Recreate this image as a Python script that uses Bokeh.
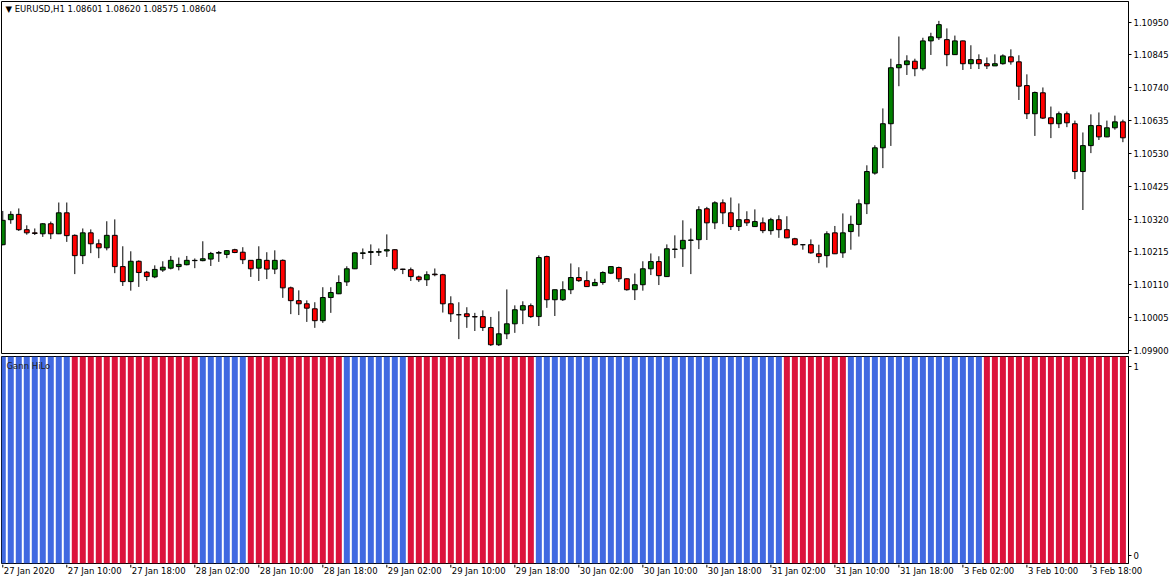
from bokeh.plotting import figure
from bokeh.models import (ColumnDataSource, Range1d, FixedTicker, LinearAxis, Label,
                          PrintfTickFormatter)
from bokeh.layouts import column
from bokeh.embed import file_html
from bokeh.resources import INLINE
from bokeh.core.properties import value

# ---------------- data (EURUSD H1, 27 Jan 2020 02:00 .. 3 Feb 2020 22:00) ----------------
opens = [1.10238, 1.10318, 1.10335, 1.10286, 1.10276, 1.10273, 1.10305, 1.10273, 1.10340, 1.10268,
         1.10203, 1.10276, 1.10241, 1.10228, 1.10268, 1.10168, 1.10120, 1.10185, 1.10150, 1.10135,
         1.10157, 1.10163, 1.10168, 1.10174, 1.10187, 1.10187, 1.10192, 1.10211, 1.10207, 1.10222,
         1.10214, 1.10188, 1.10163, 1.10188, 1.10160, 1.10188, 1.10100, 1.10059, 1.10049, 1.10033,
         1.09995, 1.10069, 1.10081, 1.10119, 1.10161, 1.10210, 1.10213, 1.10214, 1.10218, 1.10222,
         1.10160, 1.10158, 1.10135, 1.10126, 1.10144, 1.10142, 1.10049, 1.10014, 1.10017, 1.10008,
         1.10008, 1.09973, 1.09918, 1.09953, 1.09985, 1.10029, 1.10043, 1.10008, 1.10200, 1.10062,
         1.10062, 1.10094, 1.10133, 1.10123, 1.10107, 1.10117, 1.10147, 1.10165, 1.10129, 1.10094,
         1.10110, 1.10161, 1.10184, 1.10136, 1.10223, 1.10225, 1.10252, 1.10254, 1.10353, 1.10308,
         1.10372, 1.10340, 1.10296, 1.10318, 1.10296, 1.10308, 1.10283, 1.10318, 1.10286, 1.10257,
         1.10238, 1.10238, 1.10209, 1.10203, 1.10276, 1.10212, 1.10280, 1.10303, 1.10369, 1.10467,
         1.10548, 1.10625, 1.10804, 1.10814, 1.10825, 1.10801, 1.10890, 1.10900, 1.10894, 1.10846,
         1.10890, 1.10817, 1.10830, 1.10817, 1.10810, 1.10817, 1.10839, 1.10823, 1.10747, 1.10657,
         1.10724, 1.10644, 1.10625, 1.10657, 1.10625, 1.10472, 1.10555, 1.10619, 1.10583, 1.10612,
         1.10631]
highs = [1.10346, 1.10345, 1.10354, 1.10300, 1.10290, 1.10307, 1.10312, 1.10373, 1.10373, 1.10271,
         1.10290, 1.10287, 1.10255, 1.10313, 1.10319, 1.10233, 1.10217, 1.10188, 1.10154, 1.10172,
         1.10185, 1.10202, 1.10197, 1.10202, 1.10194, 1.10249, 1.10215, 1.10218, 1.10221, 1.10225,
         1.10230, 1.10188, 1.10233, 1.10214, 1.10220, 1.10191, 1.10104, 1.10092, 1.10060, 1.10054,
         1.10102, 1.10102, 1.10140, 1.10169, 1.10214, 1.10226, 1.10239, 1.10226, 1.10271, 1.10223,
         1.10161, 1.10165, 1.10139, 1.10153, 1.10162, 1.10145, 1.10073, 1.10054, 1.10038, 1.10020,
         1.10028, 1.10007, 1.10025, 1.10095, 1.10044, 1.10057, 1.10050, 1.10204, 1.10203, 1.10094,
         1.10121, 1.10178, 1.10166, 1.10153, 1.10129, 1.10153, 1.10169, 1.10168, 1.10131, 1.10146,
         1.10185, 1.10210, 1.10201, 1.10239, 1.10268, 1.10316, 1.10290, 1.10361, 1.10359, 1.10377,
         1.10383, 1.10389, 1.10370, 1.10345, 1.10351, 1.10325, 1.10324, 1.10332, 1.10329, 1.10260,
         1.10239, 1.10255, 1.10238, 1.10281, 1.10298, 1.10338, 1.10331, 1.10383, 1.10492, 1.10556,
         1.10674, 1.10833, 1.10904, 1.10844, 1.10833, 1.10900, 1.10916, 1.10954, 1.10930, 1.10907,
         1.10891, 1.10876, 1.10847, 1.10837, 1.10847, 1.10847, 1.10863, 1.10844, 1.10783, 1.10728,
         1.10741, 1.10680, 1.10664, 1.10664, 1.10635, 1.10597, 1.10655, 1.10661, 1.10635, 1.10651,
         1.10638]
lows = [1.10236, 1.10305, 1.10282, 1.10270, 1.10269, 1.10263, 1.10256, 1.10272, 1.10247, 1.10144,
        1.10176, 1.10211, 1.10195, 1.10220, 1.10147, 1.10106, 1.10091, 1.10103, 1.10122, 1.10131,
        1.10151, 1.10159, 1.10156, 1.10172, 1.10163, 1.10185, 1.10170, 1.10183, 1.10195, 1.10211,
        1.10176, 1.10135, 1.10122, 1.10128, 1.10144, 1.10068, 1.10016, 1.10013, 1.09991, 1.09972,
        1.09988, 1.10020, 1.10080, 1.10106, 1.10160, 1.10192, 1.10173, 1.10202, 1.10199, 1.10154,
        1.10144, 1.10122, 1.10119, 1.10106, 1.10137, 1.10021, 1.09991, 1.09936, 1.09972, 1.09962,
        1.09962, 1.09914, 1.09914, 1.09936, 1.09956, 1.09984, 1.10004, 1.09978, 1.10036, 1.10010,
        1.10058, 1.10080, 1.10119, 1.10103, 1.10106, 1.10110, 1.10144, 1.10119, 1.10091, 1.10061,
        1.10091, 1.10141, 1.10109, 1.10135, 1.10195, 1.10167, 1.10144, 1.10224, 1.10253, 1.10288,
        1.10304, 1.10285, 1.10282, 1.10298, 1.10295, 1.10275, 1.10270, 1.10260, 1.10259, 1.10235,
        1.10222, 1.10209, 1.10179, 1.10165, 1.10208, 1.10196, 1.10222, 1.10264, 1.10336, 1.10462,
        1.10483, 1.10554, 1.10745, 1.10781, 1.10777, 1.10795, 1.10845, 1.10893, 1.10809, 1.10845,
        1.10797, 1.10800, 1.10800, 1.10800, 1.10810, 1.10814, 1.10814, 1.10701, 1.10640, 1.10586,
        1.10640, 1.10579, 1.10611, 1.10614, 1.10448, 1.10349, 1.10531, 1.10573, 1.10582, 1.10606,
        1.10566]
closes = [1.10316, 1.10335, 1.10286, 1.10276, 1.10274, 1.10305, 1.10273, 1.10340, 1.10267, 1.10203,
          1.10276, 1.10241, 1.10228, 1.10268, 1.10168, 1.10120, 1.10185, 1.10149, 1.10136, 1.10159,
          1.10166, 1.10188, 1.10175, 1.10188, 1.10188, 1.10193, 1.10210, 1.10213, 1.10219, 1.10213,
          1.10190, 1.10161, 1.10191, 1.10160, 1.10188, 1.10100, 1.10059, 1.10049, 1.10035, 1.09995,
          1.10069, 1.10085, 1.10117, 1.10161, 1.10212, 1.10212, 1.10216, 1.10216, 1.10222, 1.10161,
          1.10159, 1.10136, 1.10126, 1.10142, 1.10142, 1.10049, 1.10017, 1.10014, 1.10008, 1.10007,
          1.09973, 1.09918, 1.09953, 1.09985, 1.10030, 1.10043, 1.10008, 1.10197, 1.10062, 1.10094,
          1.10094, 1.10133, 1.10123, 1.10104, 1.10117, 1.10149, 1.10168, 1.10129, 1.10094, 1.10110,
          1.10161, 1.10184, 1.10139, 1.10225, 1.10224, 1.10252, 1.10253, 1.10350, 1.10308, 1.10372,
          1.10340, 1.10296, 1.10318, 1.10308, 1.10312, 1.10283, 1.10318, 1.10286, 1.10260, 1.10238,
          1.10238, 1.10212, 1.10200, 1.10273, 1.10209, 1.10276, 1.10303, 1.10369, 1.10472, 1.10548,
          1.10625, 1.10804, 1.10814, 1.10826, 1.10801, 1.10890, 1.10903, 1.10942, 1.10846, 1.10890,
          1.10817, 1.10830, 1.10817, 1.10810, 1.10817, 1.10842, 1.10823, 1.10745, 1.10657, 1.10725,
          1.10643, 1.10625, 1.10657, 1.10628, 1.10472, 1.10555, 1.10619, 1.10583, 1.10612, 1.10631,
          1.10580]

# Gann HiLo state per bar: U = up (blue), D = down (red)
gann_trend = ("UUUUUUUUU" "DDDDDDDDDDDDDDDD" "UUUUUU" "DDDDDDDDDDDD" "UUUUUUUU"
              "DDDDDDDDDDDDDDDD" "UUUUUUUUUUUUUUUUUUUUUUUUUUUUUUU" "DDDDDDDD"
              "UUUUUUUUUUUUUUUUU" "DDDDDDDDDDDDDDDDDD")

price_ticks = [1.09900, 1.10005, 1.10110, 1.10215, 1.10320, 1.10425, 1.10530,
               1.10635, 1.10740, 1.10845, 1.10950]
date_tick_bars = [0, 8, 16, 24, 32, 40, 48, 56, 64, 72, 80, 88, 96, 104, 112, 120, 128, 136]
date_tick_labels = ["27 Jan 2020", "27 Jan 10:00", "27 Jan 18:00", "28 Jan 02:00", "28 Jan 10:00",
                    "28 Jan 18:00", "29 Jan 02:00", "29 Jan 10:00", "29 Jan 18:00", "30 Jan 02:00",
                    "30 Jan 10:00", "30 Jan 18:00", "31 Jan 02:00", "31 Jan 10:00", "31 Jan 18:00",
                    "3 Feb 02:00", "3 Feb 10:00", "3 Feb 18:00"]
title_text = "\u25BC EURUSD,H1  1.08601 1.08620 1.08575 1.08604"
indicator_name = "Gann HiLo"

# ---------------- styling ----------------
FONT = "DejaVu Sans"
FS = "8.5px"
GREEN = "#008000"
RED = "#FF0000"
BLUE_H = "#4169E1"
RED_H = "#DC143C"
FW = 1127          # plot frame width (px)
RB = 47            # right price-scale width (px)

n = len(opens)
xs = list(range(n))
body_top = [max(o, c) for o, c in zip(opens, closes)]
body_bot = [min(o, c) for o, c in zip(opens, closes)]
body_col = [GREEN if c > o else RED for o, c in zip(opens, closes)]
src = ColumnDataSource(dict(x=xs, h=highs, l=lows, top=body_top, bottom=body_bot, color=body_col))

xr = Range1d(-0.16, n - 0.3)


def base_fig(fh, y_range, x_range, fw=FW, mbl=1, mbr=RB, mbt=1, mbb=1, outline="black"):
    p = figure(frame_width=fw, frame_height=fh, x_range=x_range, y_range=y_range,
               output_backend="svg", toolbar_location=None,
               x_axis_location=None, y_axis_location=None,
               min_border_left=mbl, min_border_right=mbr, min_border_top=mbt, min_border_bottom=mbb,
               outline_line_color=outline, outline_line_width=1,
               background_fill_color="white", border_fill_color="white")
    p.grid.visible = False
    return p


# ---------------- price panel ----------------
p1 = base_fig(352, Range1d(1.09890, 1.11016), xr, mbt=1, mbb=2)

p1.segment(x0="x", y0="h", x1="x", y1="l", source=src, line_color="black", line_width=1)
p1.vbar(x="x", top="top", bottom="bottom", width=0.6, source=src,
        fill_color="color", line_color="black", line_width=1)

ax1 = LinearAxis(ticker=FixedTicker(ticks=price_ticks), formatter=PrintfTickFormatter(format="%.5f"),
                 major_tick_out=3, major_tick_in=0, minor_tick_line_color=None,
                 axis_line_color="black", major_tick_line_color="black",
                 major_label_text_font=FONT, major_label_text_font_size=FS,
                 major_label_text_color="black", major_label_standoff=2)
p1.add_layout(ax1, "right")

p1.add_layout(Label(x=4, y=350, x_units="screen", y_units="screen", text=title_text,
                    text_font=FONT, text_font_size=FS, text_color="black",
                    text_baseline="top", text_align="left"))

# ---------------- Gann HiLo panel ----------------
hsrc = ColumnDataSource(dict(x=xs, v=[1] * n,
                             color=[BLUE_H if s == "U" else RED_H for s in gann_trend]))

p2 = base_fig(207, Range1d(0, 1), xr, mbt=1, mbb=1)
p2.extra_y_ranges = {"lab": Range1d(-0.042, 1.053)}

p2.vbar(x="x", top="v", bottom=0, width=0.75, source=hsrc, fill_color="color", line_color=None)

ax2 = LinearAxis(y_range_name="lab", ticker=FixedTicker(ticks=[0, 1]),
                 major_tick_out=3, major_tick_in=0, minor_tick_line_color=None,
                 axis_line_color="black", major_tick_line_color="black",
                 major_label_text_font=FONT, major_label_text_font_size=FS,
                 major_label_text_color="black", major_label_standoff=2)
p2.add_layout(ax2, "right")

p2.add_layout(Label(x=5, y=203, x_units="screen", y_units="screen", text=indicator_name,
                    text_font=FONT, text_font_size=FS, text_color="#222222",
                    text_baseline="top", text_align="left"))

# ---------------- time scale strip ----------------
FW3 = FW + RB - 1
x3 = Range1d(xr.start, xr.start + FW3 * (xr.end - xr.start) / FW)
p3 = base_fig(21, Range1d(0, 21), x3, fw=FW3, mbl=1, mbr=0, mbt=0, mbb=0, outline=None)
tsrc = ColumnDataSource(dict(x=date_tick_bars, text=date_tick_labels))
p3.segment(x0="x", y0=21, x1="x", y1=18, source=tsrc, line_color="black", line_width=1)
p3.text(x="x", y=20, text="text", source=tsrc, x_offset=1, text_align="left",
        text_baseline="top", text_font=value(FONT), text_font_size=value(FS), text_color="black")

layout = column(p1, p2, p3, spacing=0)
open("out.html", "w").write(file_html(layout, INLINE))
